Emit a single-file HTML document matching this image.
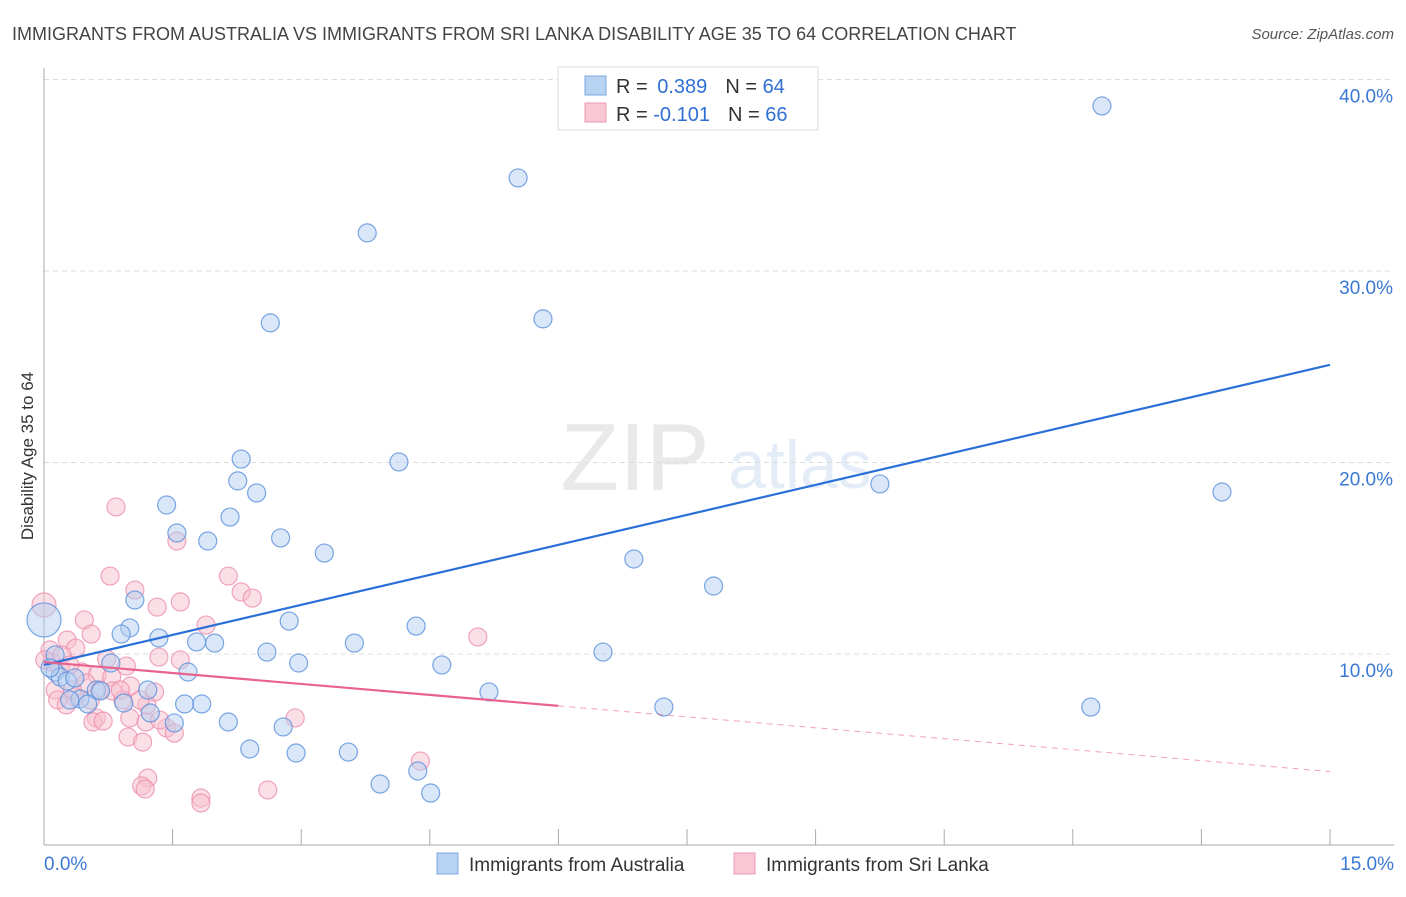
<!DOCTYPE html>
<html><head><meta charset="utf-8"><style>
body{margin:0;background:#fff;font-family:"Liberation Sans",sans-serif;}
svg text{font-family:"Liberation Sans",sans-serif;}
</style></head><body>
<svg id="chart" width="1406" height="892" xmlns="http://www.w3.org/2000/svg">
<text x="12" y="40" font-size="18" fill="#444">IMMIGRANTS FROM AUSTRALIA VS IMMIGRANTS FROM SRI LANKA DISABILITY AGE 35 TO 64 CORRELATION CHART</text>
<text x="1394" y="39" font-size="15" fill="#555" font-style="italic" text-anchor="end">Source: ZipAtlas.com</text>
<g opacity="0.18">
<text x="635" y="490" font-size="96" font-family="Liberation Serif" fill="#888" text-anchor="middle">ZIP</text>
<text x="800" y="488" font-size="68" fill="#6b9bd6" text-anchor="middle">atlas</text>
</g>
<g id="grid"></g>
<g id="axes"></g>
<g id="pts"></g>
<g id="trends"></g>
<text transform="translate(33,456) rotate(-90)" font-size="17" fill="#333" text-anchor="middle">Disability Age 35 to 64</text>
<g>
<rect x="558" y="67" width="260" height="63" fill="#fff" stroke="#ddd"/>
<rect x="585" y="76" width="21" height="19" fill="#b8d2f2" stroke="#7aa6e0"/>
<rect x="585" y="103" width="21" height="19" fill="#f8c6d4" stroke="#ee9ab2"/>
<text x="616" y="93" font-size="20" fill="#333">R = <tspan fill="#2f6fd4" dx="4">0.389</tspan><tspan dx="18" fill="#333">N = </tspan><tspan fill="#2f6fd4">64</tspan></text>
<text x="616" y="121" font-size="20" fill="#333">R = <tspan fill="#2f6fd4">-0.101</tspan><tspan dx="18" fill="#333">N = </tspan><tspan fill="#2f6fd4">66</tspan></text>
</g>
<g>
<rect x="437" y="853" width="21" height="21" fill="#b8d2f2" stroke="#7aa6e0"/>
<text x="469" y="871" font-size="19" fill="#333">Immigrants from Australia</text>
<rect x="734" y="853" width="21" height="21" fill="#f8c6d4" stroke="#ee9ab2"/>
<text x="766" y="871" font-size="19" fill="#333">Immigrants from Sri Lanka</text>
</g>
</svg>
<script>
const xTicks=[0,1.5,3,4.5,6,7.5,9,10.5,12,13.5,15];
const yTicks=[10,20,30,40];
const yTickLabels=["10.0%","20.0%","30.0%","40.0%"];
const xEndLabels=["0.0%","15.0%"];
const auX=[0,6.19,12.34,5.53,3.77,2.64,5.82,2.30,4.14,2.26,2.48,1.43,2.17,1.55,1.91,2.76,3.27,6.88,7.81,1.06,2.86,4.34,1.00,0.90,1.34,1.78,1.99,3.62,2.60,6.52,0.78,2.97,4.64,1.68,0.13,0.13,0.19,0.27,0.36,0.61,0.66,1.21,5.19,0.42,0.51,0.93,1.64,1.84,1.24,7.23,12.21,1.52,2.15,2.79,2.40,2.94,3.55,4.36,3.92,4.51,9.75,13.74,0.07,0.30];
const auY=[11.78,39.92,38.62,34.86,31.99,27.29,27.50,20.18,20.03,19.04,18.41,17.78,17.15,16.32,15.90,16.06,15.27,14.96,13.55,12.82,11.72,11.46,11.36,11.04,10.84,10.63,10.57,10.57,10.10,10.10,9.53,9.53,9.43,9.06,9.95,9.06,8.80,8.59,8.75,8.12,8.07,8.12,8.02,7.65,7.39,7.44,7.39,7.39,6.92,7.23,7.23,6.40,6.45,6.19,5.04,4.83,4.88,3.89,3.21,2.74,18.88,18.46,9.27,7.60];
const slX=[0,0.84,1.55,0.77,2.15,1.06,2.30,2.43,1.59,1.32,0.47,1.89,5.06,0.27,0.55,0.37,0.07,1.34,0.73,1.59,0.96,0.09,0.19,0.44,0.62,0.79,0.49,1.01,1.29,0.80,0.36,0.92,1.20,0.61,1.00,0.57,0.69,1.43,1.52,1.19,2.93,0.98,1.15,4.39,1.21,1.14,1.18,1.83,1.83,2.61,0.01,0.13,0.21,0.30,0.89,0.54,0.65,1.12,1.35,0.16,0.26,0.33];
const slY=[12.56,17.68,15.90,14.07,14.07,13.34,13.24,12.92,12.72,12.45,11.78,11.51,10.89,10.73,11.04,10.31,10.21,9.84,9.74,9.69,9.37,9.58,9.27,9.06,8.90,8.80,8.49,8.33,8.02,8.07,7.75,7.60,7.34,6.66,6.66,6.45,6.50,6.14,5.87,6.45,6.66,5.67,5.40,4.41,3.52,3.11,2.95,2.48,2.22,2.90,9.69,8.12,9.95,9.43,8.12,7.60,8.12,7.60,6.55,7.60,7.34,8.12];
const auTrend=[9.43,25.1];
const slTrend=[9.58,3.86];
const slSolidEnd=6.0;
const NS="http://www.w3.org/2000/svg";
const X=v=>44+v/15*1286;
const Y=v=>845.5-v*19.15;
function mk(t,a,p){const e=document.createElementNS(NS,t);for(const k in a)e.setAttribute(k,a[k]);p.appendChild(e);return e;}
const grid=document.getElementById('grid'),axes=document.getElementById('axes'),pts=document.getElementById('pts'),tr=document.getElementById('trends');
yTicks.forEach((t,i)=>{
 const l=mk('line',{x1:44,x2:1394,y1:Y(t),y2:Y(t),stroke:'#ddd','stroke-dasharray':'5,4'},grid);
 
 
 const tx=mk('text',{x:1393,y:Y(t)+23,'font-size':19,fill:'#3a78d4','text-anchor':'end'},axes);
 tx.textContent=yTickLabels[i];
 
 
});
const ya=mk('line',{x1:44,x2:44,y1:68,y2:845,stroke:'#aaa'},axes);


const xa=mk('line',{x1:44,x2:1394,y1:845,y2:845,stroke:'#aaa'},axes);


xTicks.forEach(t=>{
 const l=mk('line',{x1:X(t),x2:X(t),y1:829,y2:845,stroke:'#aaa'},axes);
 
 
});
[[0,'start',44],[15,'end',1394]].forEach((d,i)=>{
 const tx=mk('text',{x:d[2],y:870,'font-size':19,fill:'#3a78d4','text-anchor':d[1]},axes);
 tx.textContent=xEndLabels[i];
 
 
});
function dots(xs,ys,fill,stroke,name){
 xs.forEach((x,i)=>{
  const r=i===0?(name==='point-australia'?17:12):9;
  const c=mk('circle',{cx:X(x),cy:Y(ys[i]),r:r,fill:fill,'fill-opacity':0.5,stroke:stroke,'stroke-opacity':0.8,'stroke-width':1.2},pts);
  
  
 });
}
dots(slX,slY,'#f8c0d0','#ec8fab','point-srilanka');
dots(auX,auY,'#b3cff2','#5a90dc','point-australia');
const bl=mk('line',{x1:X(0),y1:Y(auTrend[0]),x2:X(15),y2:Y(auTrend[1]),stroke:'#2a70d8','stroke-width':2.2},tr);


const slAt=x=>slTrend[0]+(slTrend[1]-slTrend[0])*x/15;
const pl=mk('line',{x1:X(0),y1:Y(slTrend[0]),x2:X(slSolidEnd),y2:Y(slAt(slSolidEnd)),stroke:'#e8628e','stroke-width':2.2},tr);


const pd=mk('line',{x1:X(slSolidEnd),y1:Y(slAt(slSolidEnd)),x2:X(15),y2:Y(slTrend[1]),stroke:'#e8628e','stroke-width':1,'stroke-dasharray':'6,5','stroke-opacity':0.6},tr);


</script>
</body></html>
